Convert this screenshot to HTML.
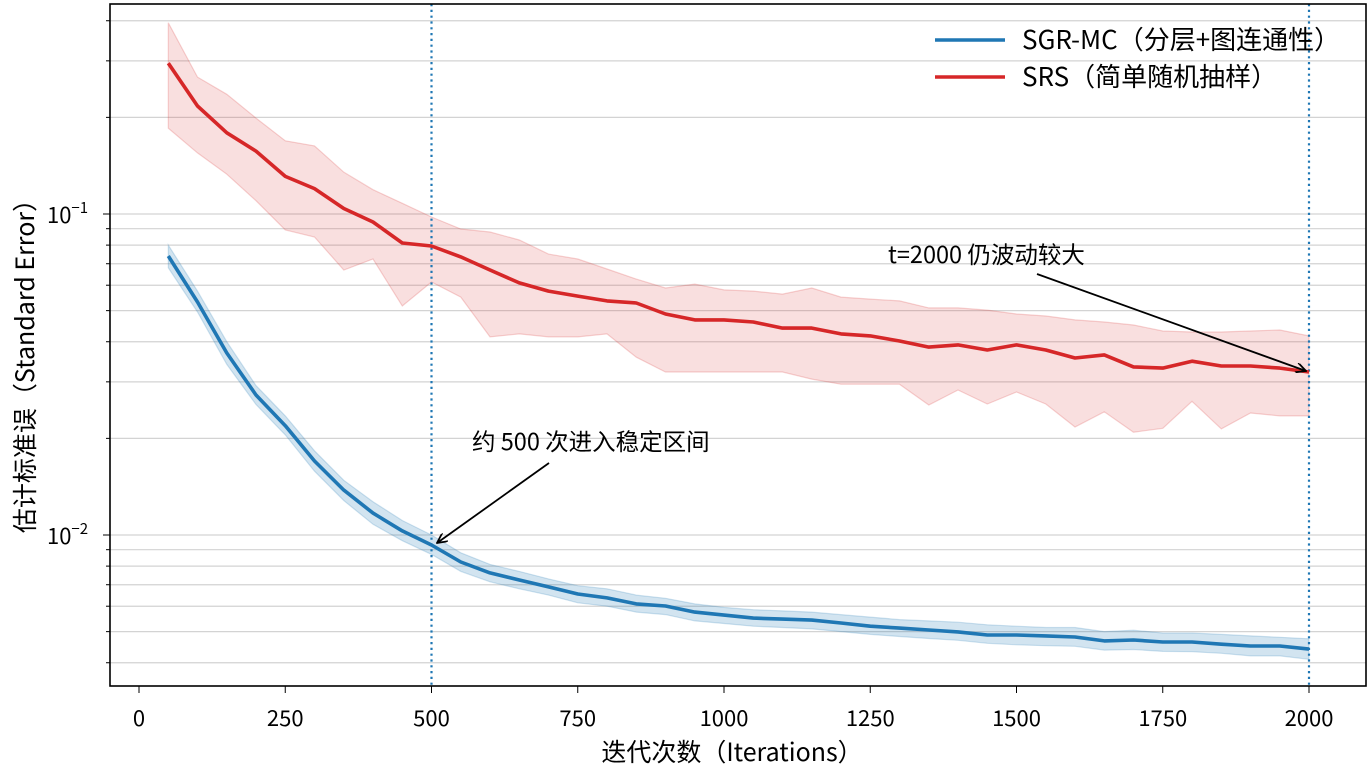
<!DOCTYPE html>
<html><head><meta charset="utf-8"><style>
body{margin:0;background:#fff}
svg{display:block;font-family:"Noto Sans CJK SC","Liberation Sans",sans-serif}
</style></head><body>
<svg id="chart" width="1370" height="772" xmlns="http://www.w3.org/2000/svg"></svg>
<script>
const iterations=[50,100,150,200,250,300,350,400,450,500,550,600,650,700,750,800,850,900,950,1000,1050,1100,1150,1200,1250,1300,1350,1400,1450,1500,1550,1600,1650,1700,1750,1800,1850,1900,1950,2000];
const sgrMean=[0.0740,0.0532,0.0369,0.0273,0.0219,0.0170,0.0138,0.0117,0.0103,0.00931,0.00824,0.00762,0.00724,0.00689,0.00655,0.00637,0.00610,0.00601,0.00575,0.00563,0.00551,0.00547,0.00543,0.00532,0.00520,0.00513,0.00506,0.00499,0.00488,0.00488,0.00485,0.00481,0.00468,0.00471,0.00464,0.00464,0.00457,0.00451,0.00451,0.00441];
const sgrUpper=[0.0800,0.0575,0.0400,0.0292,0.0235,0.0183,0.0148,0.0127,0.0111,0.0100,0.00880,0.00810,0.00770,0.00730,0.00695,0.00680,0.00650,0.00635,0.00610,0.00595,0.00585,0.00580,0.00575,0.00565,0.00555,0.00545,0.00540,0.00535,0.00525,0.00520,0.00515,0.00515,0.00500,0.00505,0.00495,0.00495,0.00490,0.00485,0.00480,0.00475];
const sgrLower=[0.0680,0.0495,0.0340,0.0255,0.0205,0.0158,0.0128,0.0108,0.0096,0.00870,0.00770,0.00715,0.00680,0.00650,0.00615,0.00600,0.00575,0.00565,0.00540,0.00530,0.00520,0.00515,0.00510,0.00500,0.00490,0.00483,0.00476,0.00470,0.00460,0.00455,0.00452,0.00450,0.00438,0.00440,0.00434,0.00433,0.00428,0.00420,0.00420,0.00410];
const srsMean=[0.295,0.217,0.179,0.157,0.131,0.120,0.104,0.0944,0.0812,0.0795,0.0735,0.0669,0.0610,0.0575,0.0555,0.0536,0.0528,0.0488,0.0468,0.0468,0.0461,0.0441,0.0441,0.0423,0.0417,0.0402,0.0385,0.0391,0.0377,0.0391,0.0377,0.0356,0.0364,0.0334,0.0331,0.0348,0.0336,0.0336,0.0331,0.0322];
const srsUpper=[0.394,0.267,0.236,0.199,0.169,0.163,0.135,0.119,0.108,0.0979,0.0898,0.0879,0.0830,0.0750,0.0724,0.0674,0.0627,0.0588,0.0605,0.0580,0.0575,0.0563,0.0588,0.0551,0.0543,0.0536,0.0510,0.0510,0.0502,0.0488,0.0481,0.0468,0.0461,0.0451,0.0432,0.0429,0.0429,0.0432,0.0435,0.0417];
const srsLower=[0.185,0.155,0.133,0.110,0.0892,0.0848,0.0669,0.0724,0.0517,0.0614,0.0551,0.0414,0.0423,0.0414,0.0414,0.0423,0.0358,0.0322,0.0322,0.0322,0.0322,0.0322,0.0306,0.0295,0.0295,0.0295,0.0254,0.0283,0.0256,0.0279,0.0256,0.0217,0.0242,0.0209,0.0215,0.0261,0.0214,0.0240,0.0235,0.0235];
const xTicks=[0,250,500,750,1000,1250,1500,1750,2000];
const vLines=[500,2000];

const NS="http://www.w3.org/2000/svg";
const svg=document.getElementById('chart');
const L=110,R=1366,T=4,B=686;
const X=v=>139+(v/2000)*1170;
const Y=v=>214-321*(Math.log10(v)+1);
function mk(tag,attrs,parent){const e=document.createElementNS(NS,tag);for(const k in attrs)e.setAttribute(k,attrs[k]);(parent||svg).appendChild(e);return e;}

for(let d=-3;d<=-1;d++){for(let m=1;m<=9;m++){const v=m*Math.pow(10,d);const y=Y(v);if(y<T||y>B)continue;
 const g=mk('line',{x1:L,x2:R,y1:y,y2:y,stroke:'#d3d3d3','stroke-width':1.2});
 
 
 const t=mk('line',{x1:L-(m===1?7:4),x2:L,y1:y,y2:y,stroke:'#000','stroke-width':1});
 
 
}}
function pathOf(xs,ys){return xs.map((x,i)=>(i?'L':'M')+X(x).toFixed(1)+' '+Y(ys[i]).toFixed(1)).join(' ');}
function band(up,lo,fill,stroke,name,op){
 let d=pathOf(iterations,up);
 for(let i=iterations.length-1;i>=0;i--)d+=' L'+X(iterations[i]).toFixed(1)+' '+Y(lo[i]).toFixed(1);
 const p=mk('path',{d:d+' Z',fill:fill,'fill-opacity':op,stroke:stroke,'stroke-opacity':0.2,'stroke-width':1.2});
 
 
}
band(srsUpper,srsLower,'#d62728','#d62728','srs-band',0.15);
band(sgrUpper,sgrLower,'#1f77b4','#1f77b4','sgr-band',0.2);
for(const v of vLines){const l=mk('line',{x1:X(v),x2:X(v),y1:T,y2:B,stroke:'#1f77b4','stroke-width':2.2,'stroke-dasharray':'2.2 3.6'});
 
 }
const s1=mk('path',{d:pathOf(iterations,srsMean),fill:'none',stroke:'#d62728','stroke-width':3.6,'stroke-linejoin':'round'});


const s2=mk('path',{d:pathOf(iterations,sgrMean),fill:'none',stroke:'#1f77b4','stroke-width':3.6,'stroke-linejoin':'round'});



const fr=mk('rect',{x:L,y:T,width:R-L,height:B-T,fill:'none',stroke:'#000','stroke-width':1.6});


for(const v of xTicks){const t=mk('line',{x1:X(v),x2:X(v),y1:B,y2:B+7,stroke:'#000','stroke-width':1});
 
 
 const tx=mk('text',{x:X(v),y:B+40,'text-anchor':'middle','font-size':22,fill:'#000'});tx.textContent=v;
 
 }
[[0.1,'-1'],[0.01,'-2']].forEach(([v,e])=>{const tx=mk('text',{x:47,y:Y(v)+9,'font-size':22,fill:'#000'});
 tx.innerHTML='10<tspan dy="-10" font-size="15">\u2212'+e.slice(1)+'</tspan>';
 
 });
mk('defs',{}).innerHTML='<marker id="ah" markerWidth="12" markerHeight="10" refX="11" refY="5" orient="auto" markerUnits="userSpaceOnUse"><path d="M1 0 L11 5 L1 10" fill="none" stroke="#000" stroke-width="1.8"/></marker>';
const a1=mk('line',{x1:549,y1:463,x2:437,y2:543,stroke:'#000','stroke-width':1.8,'marker-end':'url(#ah)'});


const a2=mk('line',{x1:1037,y1:274,x2:1306,y2:371,stroke:'#000','stroke-width':1.8,'marker-end':'url(#ah)'});


</script>
<svg style="position:absolute;left:0;top:0" width="1370" height="772" font-family="Noto Sans CJK SC, Liberation Sans, sans-serif">
<text x="472" y="450" font-size="23.5" fill="#000">约 500 次进入稳定区间</text>
<text x="888" y="263" font-size="23.5" fill="#000">t=2000 仍波动较大</text>
<g>
<line x1="935" x2="1005" y1="40" y2="40" stroke="#1f77b4" stroke-width="3.6"/>
<text x="1022" y="49" font-size="26" fill="#000">SGR-MC（分层+图连通性）</text>
<line x1="935" x2="1005" y1="77" y2="77" stroke="#d62728" stroke-width="3.6"/>
<text x="1022" y="86" font-size="26" fill="#000">SRS（简单随机抽样）</text>
</g>
<text x="732" y="761" text-anchor="middle" font-size="25" fill="#000">迭代次数（Iterations）</text>
<text transform="translate(34,360) rotate(-90)" text-anchor="middle" font-size="25" fill="#000">估计标准误（Standard Error）</text>
</svg>
</body></html>
